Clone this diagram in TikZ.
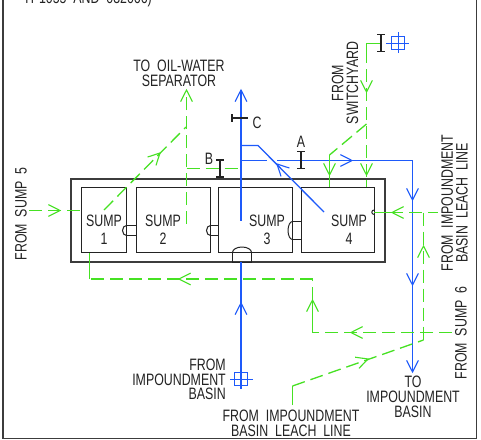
\documentclass[tikz,border=0pt]{standalone}
\usepackage{fontspec}
\setmainfont[FakeStretch=0.75,WordSpace=2.0]{Liberation Sans}
\definecolor{gl}{RGB}{70,225,35}
\definecolor{bl}{RGB}{30,90,250}
\definecolor{ink}{RGB}{35,35,35}
\definecolor{wall}{RGB}{60,60,60}
\tikzset{
 x=1pt,y=-1pt,
 box/.style={draw=ink,line width=1pt},
 outer/.style={draw=wall,line width=1.5pt},
 gs/.style={draw=gl,line width=1.3pt},
 gd/.style={draw=gl,line width=1.3pt,dash pattern=on 13pt off 6pt},
 bs/.style={draw=bl,line width=1.3pt},
 sym/.style={draw=ink,line width=1.6pt},
 lbl/.style={font=\fontsize{16.5}{14.7}\selectfont,text=ink,align=center,inner sep=0pt},
 lblr/.style={lbl,align=right},
 v/.style={lbl,rotate=90},
}
% open arrowhead: tip position, direction angle on screen (0 right, 90 down), colour
\newcommand{\opentip}[3]{\draw[#3,line width=1.1pt,solid] (#1)++(#2+153:13) -- (#1) -- ++(#2-153:13);}
\newcommand{\ibar}[2]{\draw[sym] (#1,#2-8.5)--(#1,#2+8.5) (#1-4,#2-8.5)--(#1+4,#2-8.5) (#1-4,#2+8.5)--(#1+4,#2+8.5);}
\begin{document}
\begin{tikzpicture}
\useasboundingbox (0,0) rectangle (481,439);
\fill[white] (0,0) rectangle (481,439);
\begin{scope}
\clip (0,0) rectangle (481,439);
% frame
\draw[outer] (3,0)--(3,439) (476.5,0)--(476.5,439) (3,438.5)--(476.5,438.5);
\node[lbl,anchor=base west] (top) at (23,3) {TP1055 AND 032066)};
\end{scope}
% tank
\draw[outer] (71,179) rectangle (385,262);
\draw[box] (81.5,187.5) rectangle (126.5,252.5);
\draw[box] (136.5,187.5) rectangle (210.5,252.5);
\draw[box] (218.5,187.5) rectangle (292.5,252.5);
\draw[box] (301.5,187.5) rectangle (374.5,252.5);
% pass-throughs
\draw[box] (126.5,225.5) rectangle (136.5,235.5);
\draw[box] (126.5,225.5) arc[start angle=-90,end angle=-270,x radius=4,y radius=5];
\draw[box] (210.5,225.5) rectangle (218.5,235.5);
\draw[box] (210.5,225.5) arc[start angle=-90,end angle=-270,x radius=4,y radius=5];
\draw[box] (292.5,221.5) rectangle (301.5,239.5);
\draw[box] (292.5,221.5) arc[start angle=-90,end angle=-270,x radius=4.5,y radius=9];
\draw[box] (232.5,252.5) rectangle (251.5,262);
\draw[box] (232.5,252.5) arc[start angle=180,end angle=360,x radius=9.5,y radius=5.5];
\draw[box] (374,210) arc[start angle=-90,end angle=-270,x radius=2.2,y radius=2.2];
% blue lines
\draw[bs] (241,90)--(241,221);
\opentip{241,90}{-90}{bl}
\draw[bs] (241,145.5)--(258,145.5)--(324,212);
\opentip{277,164}{225}{bl}
\draw[bs] (241,160.5)--(267,160.5) (277,160.5)--(412.5,160.5)--(412.5,372);
\opentip{352,160.5}{0}{bl}
\opentip{412.5,200}{90}{bl}
\opentip{412.5,285}{90}{bl}
\opentip{412.5,372}{90}{bl}
\draw[bs] (241,262)--(241,389);
\opentip{241,303}{-90}{bl}
\draw[draw=bl,line width=.8pt] (234.5,372.5) rectangle (247.5,385.5) (230,379.5)--(253,379.5);
\draw[draw=bl,line width=.8pt] (391.5,36.5) rectangle (404.5,49.5) (386,43.5)--(409,43.5) (398.5,32)--(398.5,53);
% green lines
\draw[gd] (29,210.5)--(81,210.5);
\opentip{60,210.5}{0}{gl}
\draw[gd] (104,210)--(186,127);
\opentip{160,153}{-45}{gl}
\draw[gd] (186.5,224)--(186.5,92);
\opentip{186.5,90}{-90}{gl}
\draw[gd] (186.5,168.5)--(241,168.5);
\draw[gs] (380,43.5)--(366.5,43.5)--(366.5,50);
\draw[gd] (366.5,50)--(366.5,180);
\draw[gs] (366.5,180)--(366.5,187);
\opentip{366.5,92}{90}{gl}
\opentip{366.5,175}{90}{gl}
\draw[gd] (366.5,124)--(329.5,155);
\draw[gs] (329.5,155)--(329.5,187);
\opentip{329.5,175}{90}{gl}
\draw[gs] (374,212.5)--(390,212.5);
\draw[gd] (390,212.5)--(438,212.5);
\opentip{392,212.5}{180}{gl}
\draw[gd] (423.5,212.5)--(423.5,340);
\opentip{423.5,246}{-90}{gl}
\draw[gs] (292.5,405)--(292.5,386);
\draw[gd] (292.5,386)--(423.5,340);
\opentip{368,359}{-19}{gl}
\draw[gd] (452,332.5)--(312.5,332.5);
\opentip{351,332.5}{180}{gl}
\draw[gs] (312.5,332.5)--(312.5,300);
\draw[gd] (312.5,300)--(312.5,279);
\opentip{312.5,300}{-90}{gl}
\draw[gd] (312.5,279)--(89.5,279);
\opentip{179,279}{180}{gl}
\draw[gs] (89.5,279)--(89.5,252.5);
% section marks
\ibar{220}{168.5}
\ibar{301}{160}
\ibar{381}{43}
\draw[sym] (232,118)--(248,118) (232,114)--(232,122);
% labels
\node[lbl] (a) at (301,142) {A};
\node[lbl] (b) at (209,159) {B};
\node[lbl] (c) at (257,123) {C};
\node[lbl] (s1) at (104,230) {SUMP\\[3pt]1};
\node[lbl] (s2) at (163,230) {SUMP\\[3pt]2};
\node[lbl] (s3) at (267,230) {SUMP\\[3pt]3};
\node[lbl] (s4) at (349,230) {SUMP\\[3pt]4};
\node[lbl] (oil) at (179,73.5) {TO OIL-WATER\\SEPARATOR};
\node[lblr,anchor=east] (fib) at (226,379.5) {FROM\\IMPOUNDMENT\\BASIN};
\node[lbl] (tib) at (413,397) {TO\\IMPOUNDMENT\\BASIN};
\node[lbl] (fl) at (291,423.5) {FROM IMPOUNDMENT\\BASIN LEACH LINE};
\node[v] (f5) at (21,214) {FROM SUMP 5};
\node[v] (fs) at (345,83) {FROM\\SWITCHYARD};
\node[v] (fr) at (454.5,203) {FROM IMPOUNDMENT\\BASIN LEACH LINE};
\node[v] (f6) at (461,333) {FROM SUMP 6};
\end{tikzpicture}
\end{document}
